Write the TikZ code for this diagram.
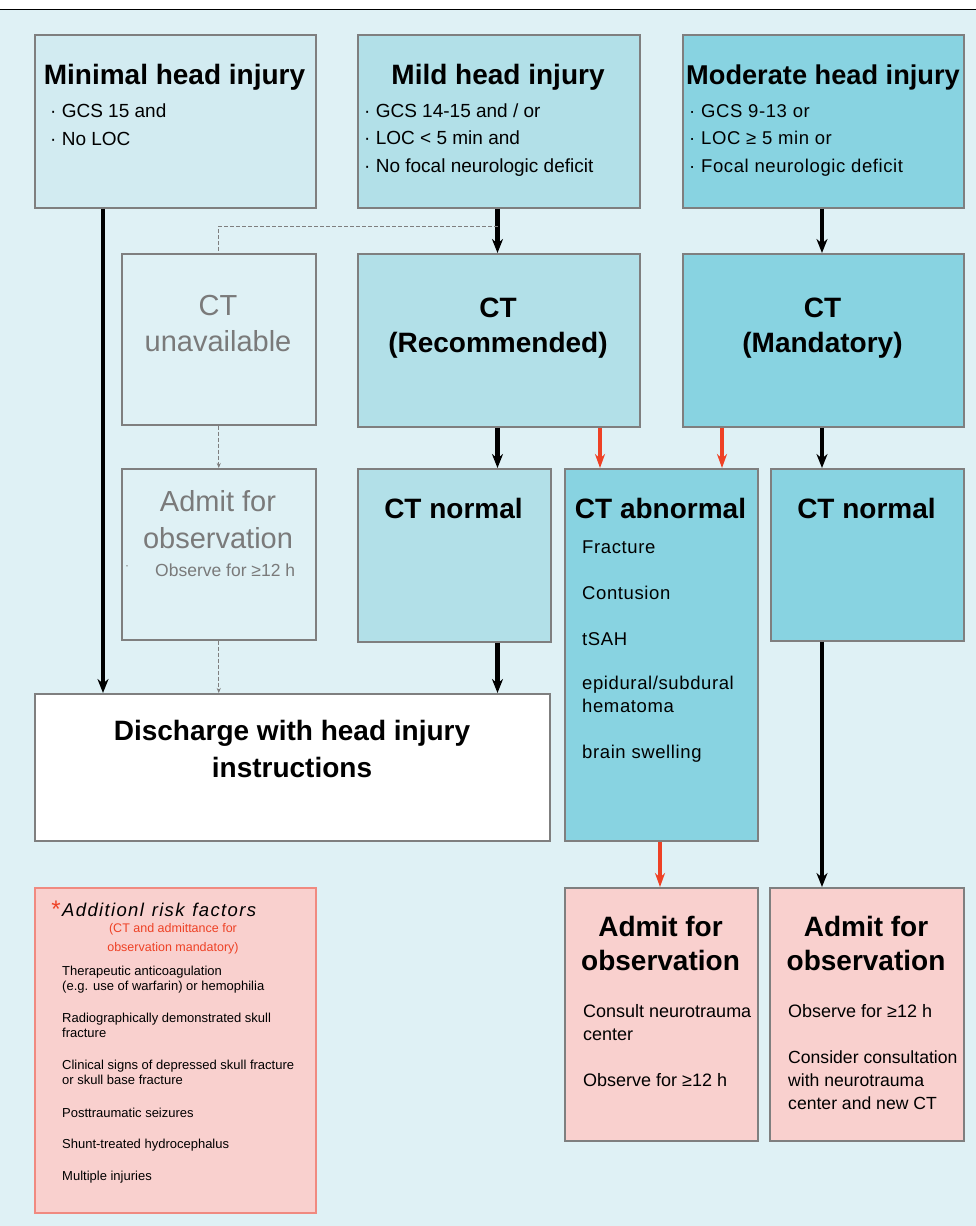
\documentclass[tikz,border=0pt]{standalone}
\usepackage{fontspec}
\setmainfont{Liberation Sans}
\newfontfamily\trackfont[LetterSpace=3.3]{Liberation Sans}
\usetikzlibrary{arrows.meta}
\definecolor{bgc}{HTML}{DFF1F5}
\definecolor{minc}{HTML}{D2EBF1}
\definecolor{mildc}{HTML}{B2E0E8}
\definecolor{modc}{HTML}{88D3E1}
\definecolor{pinkc}{HTML}{F9D0CE}
\definecolor{pinkb}{HTML}{F08A80}
\definecolor{edgec}{HTML}{7F7F7F}
\definecolor{grayt}{HTML}{7A7A7A}
\definecolor{redc}{HTML}{EE4125}
\newcommand\myfs[2]{\fontsize{#1}{#2}\selectfont}
\newcommand\rk{\kern1.35pt}
\tikzset{
  box/.style={draw=edgec, line width=1.5pt, rectangle, anchor=north west, inner sep=0pt},
  ttl/.style={font=\bfseries\myfs{28}{35}, anchor=base, inner sep=0pt, align=center},
  gttl/.style={font=\myfs{29}{36}, text=grayt, anchor=base, inner sep=0pt, align=center},
  bul/.style={font=\myfs{19}{27.5}, anchor=base west, inner sep=0pt, align=left},
  itm/.style={font=\trackfont\myfs{18.5}{23}, anchor=base west, inner sep=0pt, align=left},
  rsk/.style={font=\myfs{13}{14.5}, anchor=base west, inner sep=0pt, align=left},
  blk/.style={line width=4.5pt, black, -{Stealth[length=14pt,width=11pt]}},
  redarr/.style={line width=3.5pt, redc, -{Stealth[length=14pt,width=10pt]}},
  dsh/.style={line width=0.9pt, edgec, dash pattern=on 4pt off 2pt, -{Stealth[length=5pt,width=4pt]}},
  dshl/.style={line width=0.9pt, edgec, dash pattern=on 4pt off 2pt}
}
\begin{document}
\begin{tikzpicture}[x=1pt,y=-1pt]
\useasboundingbox (0,0) rectangle (976,1226);
\fill[white] (0,0) rectangle (976,10);
\fill[bgc] (0,10) rectangle (976,1226);
\draw[line width=1.5pt] (0,9.5) -- (976,9.5);

% top row
\node[box, fill=minc, minimum width=281pt, minimum height=173pt] (minimal) at (34,34) {};
\node[box, fill=mildc, minimum width=282pt, minimum height=173pt] (mild) at (357,34) {};
\node[box, fill=modc, minimum width=281pt, minimum height=173pt] (moderate) at (682,34) {};
\node[ttl] (tmin) at (174.5,84) {Minimal head injury};
\node[bul] (bmin) at (50,145) {·\ GCS 15 and\\·\ No LOC};
\node[ttl] (tmild) at (498,84) {Mild head injury};
\node[bul] (bmild) at (364,172) {·\ GCS 14-15 and / or\\·\ LOC < 5 min and\\·\ No focal neurologic deficit};
\node[ttl, font=\bfseries\myfs{27.2}{34}] (tmod) at (823,84) {Moderate head injury};
\node[bul, font=\trackfont\myfs{18.5}{27.5}] (bmod) at (689,172) {·\ GCS 9-13 or\\·\ LOC ≥ 5 min or\\·\ Focal neurologic deficit};

% second row
\node[box, fill=bgc, minimum width=194pt, minimum height=171pt] (ctun) at (121,253) {};
\node[gttl] (tctun) at (218,351) {CT\\unavailable};
\node[box, fill=mildc, minimum width=282pt, minimum height=173pt] (ctrec) at (357,253) {};
\node[ttl] (tctrec) at (498,352) {CT\\(Recommended)};
\node[box, fill=modc, minimum width=281pt, minimum height=173pt] (ctman) at (682,253) {};
\node[ttl] (tctman) at (822.5,352) {CT\\(Mandatory)};

% third row
\node[box, fill=bgc, minimum width=194pt, minimum height=171pt] (admg) at (121,468) {};
\node[gttl, font=\myfs{29}{37}] (tadmg) at (218,548) {Admit for\\observation};
\node[font=\myfs{12}{12}, text=grayt, inner sep=0pt, anchor=base] (dotg) at (127,569) {·};
\node[font=\myfs{17.5}{20}, text=grayt, inner sep=0pt, anchor=base west] (obsg) at (155,576) {Observe for ≥12 h};

\node[box, fill=mildc, minimum width=193pt, minimum height=173pt] (ctn1) at (357,468) {};
\node[ttl] (tctn1) at (453.5,518) {CT normal};
\node[box, fill=modc, minimum width=193pt, minimum height=372pt] (ctab) at (564,468) {};
\node[ttl] (tctab) at (660.5,518) {CT abnormal};
\node[itm] (i1) at (582,553) {Fracture};
\node[itm] (i2) at (582,599) {Contusion};
\node[itm] (i3) at (582,645) {tSAH};
\node[itm] (i4) at (582,712) {epidural/subdural\\hematoma};
\node[itm] (i5) at (582,758) {brain swelling};
\node[box, fill=modc, minimum width=193pt, minimum height=172pt] (ctn2) at (770,468) {};
\node[ttl] (tctn2) at (866.5,518) {CT normal};

% discharge
\node[box, fill=white, minimum width=515pt, minimum height=147pt] (dis) at (34,693) {};
\node[ttl, font=\bfseries\myfs{28}{37}] (tdis) at (292,777) {Discharge with head injury\\instructions};

% bottom row
\node[box, draw=pinkb, fill=pinkc, minimum width=281pt, minimum height=325pt] (risk) at (34,887) {};
\node[font=\myfs{24}{24}, text=redc, inner sep=0pt, anchor=base] (star) at (56,917) {*};
\node[font=\itshape\myfs{18.5}{20}, inner sep=0pt, anchor=base west] (trisk) at (62,916) {A\rk d\rk d\rk i\rk t\rk i\rk o\rk n\rk l\rk{} \rk r\rk i\rk s\rk k\rk{} \rk f\rk a\rk c\rk t\rk o\rk r\rk s};
\node[font=\myfs{12.5}{19}, text=redc, inner sep=0pt, anchor=base, align=center] (rsub) at (173,951) {(CT and admittance for\\observation mandatory)};
\node[rsk] (r1) at (62,990) {Therapeutic anticoagulation\\(e.g. use of warfarin) or hemophilia};
\node[rsk] (r2) at (62,1037) {Radiographically demonstrated skull\\fracture};
\node[rsk] (r3) at (62,1084) {Clinical signs of depressed skull fracture\\or skull base fracture};
\node[rsk] (r4) at (62,1117) {Posttraumatic seizures};
\node[rsk] (r5) at (62,1148) {Shunt-treated hydrocephalus};
\node[rsk] (r6) at (62,1180) {Multiple injuries};

\node[box, fill=pinkc, minimum width=193pt, minimum height=253pt] (adm1) at (564,887) {};
\node[ttl, font=\bfseries\myfs{28}{34}] (tadm1) at (660.5,970) {Admit for\\observation};
\node[itm, font=\myfs{18}{23}] (a11) at (583,1040) {Consult neurotrauma\\center};
\node[itm, font=\myfs{18}{23}] (a12) at (583,1086) {Observe for ≥12 h};
\node[box, fill=pinkc, minimum width=194pt, minimum height=253pt] (adm2) at (769,887) {};
\node[ttl, font=\bfseries\myfs{28}{34}] (tadm2) at (866,970) {Admit for\\observation};
\node[itm, font=\myfs{18}{23}] (a21) at (788,1017) {Observe for ≥12 h};
\node[itm, font=\myfs{17.6}{23}] (a22) at (788,1109) {Consider consultation\\with neurotrauma\\center and new CT};

% column coordinates
\coordinate (xa) at (103,0);
\coordinate (xb) at (497.5,0);
\coordinate (xd) at (822,0);
\coordinate (xe) at (600,0);
\coordinate (xf) at (722,0);
\coordinate (xg) at (660,0);
\coordinate (br) at (497.5,226);

% connectors
\draw[blk] (minimal.south -| xa) -- (dis.north -| xa);
\draw[blk] (mild.south -| xb) -- (ctrec.north -| xb);
\draw[dshl] (br) -| (ctun.north);
\draw[dsh] (ctun.south) -- (admg.north);
\draw[dsh] (admg.south) -- (admg.south |- dis.north);
\draw[blk] (moderate.south -| xd) -- (ctman.north -| xd);
\draw[blk] (ctrec.south -| xb) -- (ctn1.north -| xb);
\draw[redarr] (ctrec.south -| xe) -- (ctab.north -| xe);
\draw[redarr] (ctman.south -| xf) -- (ctab.north -| xf);
\draw[blk] (ctman.south -| xd) -- (ctn2.north -| xd);
\draw[blk] (ctn1.south -| xb) -- (dis.north -| xb);
\draw[redarr] (ctab.south -| xg) -- (adm1.north -| xg);
\draw[blk] (ctn2.south -| xd) -- (adm2.north -| xd);
\end{tikzpicture}
\end{document}
